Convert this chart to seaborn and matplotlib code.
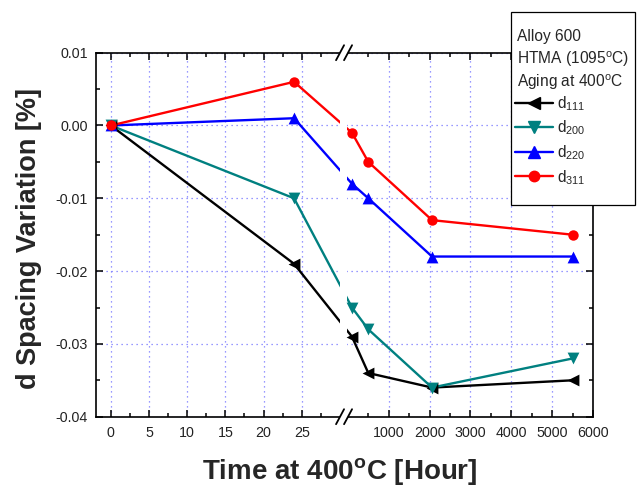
import numpy as np
import pandas as pd
import matplotlib
matplotlib.use("Agg")
import matplotlib.pyplot as plt
import seaborn as sns
from matplotlib.lines import Line2D
from matplotlib.patches import Rectangle

# ---------------- data ----------------
hours = [0, 24, 100, 500, 2060, 5500]
d111 = [0.0, -0.019, -0.029, -0.034, -0.036, -0.035]
d200 = [0.0, -0.010, -0.025, -0.028, -0.036, -0.032]
d220 = [0.0, 0.001, -0.008, -0.010, -0.018, -0.018]
d311 = [0.0, 0.006, -0.001, -0.005, -0.013, -0.015]
series_names = ["d111", "d200", "d220", "d311"]
series_labels = [r"d$_{\mathregular{111}}$", r"d$_{\mathregular{200}}$",
                 r"d$_{\mathregular{220}}$", r"d$_{\mathregular{311}}$"]
x_ticks_left = [0, 5, 10, 15, 20, 25]
x_minor_left = [2.5, 7.5, 12.5, 17.5, 22.5, 27.5]
x_ticks_right = [1000, 2000, 3000, 4000, 5000, 6000]
x_minor_right = [500, 1500, 2500, 3500, 4500, 5500]
y_ticks = [-0.04, -0.03, -0.02, -0.01, 0.00, 0.01]
y_tick_labels = ["-0.04", "-0.03", "-0.02", "-0.01", "0.00", "0.01"]
legend_title_lines = ["Alloy 600", r"HTMA (1095$^\mathregular{o}$C)",
                      r"Aging at 400$^\mathregular{o}$C"]
x_label = r"Time at 400$^\mathregular{o}$C [Hour]"
y_label = "d Spacing Variation [%]"

# ---------------- styles ----------------
colors = {"d111": "#000000", "d200": "#008080", "d220": "#0000ff", "d311": "#ff0000"}
markers = {"d111": "<", "d200": "v", "d220": "^", "d311": "o"}
msizes = {"d111": 8.5, "d200": 8.5, "d220": 8.5, "d311": 7.5}

sns.set_style("ticks")
plt.rcParams["font.family"] = ["Liberation Sans", "DejaVu Sans"]
plt.rcParams["mathtext.fontset"] = "custom"
plt.rcParams["mathtext.rm"] = "Liberation Sans"
plt.rcParams["mathtext.it"] = "Liberation Sans:italic"
plt.rcParams["mathtext.bf"] = "Liberation Sans:bold"
plt.rcParams["axes.unicode_minus"] = False

df = pd.DataFrame({
    "hours": hours * 4,
    "value": d111 + d200 + d220 + d311,
    "series": [n for n in series_names for _ in hours],
})

# broken time axis: 0..~30 h linear, then 0..6000 h compressed
BREAK = 31.0
R0 = 31.05
K = 0.005353


def fwd(h):
    h = np.asarray(h, dtype=float)
    return np.where(h <= BREAK, h, R0 + h * K)


def inv(u):
    u = np.asarray(u, dtype=float)
    return np.where(u <= BREAK, u, (u - R0) / K)


W, H = 640.0, 486.0
fig = plt.figure(figsize=(6.4, 4.86), dpi=100)
ax = fig.add_axes([96 / W, 1 - 416.7 / H, (593 - 96) / W, (416.7 - 52.7) / H])
ax.set_xscale("function", functions=(fwd, inv))

sns.lineplot(data=df, x="hours", y="value", hue="series", palette=colors,
             sort=False, linewidth=1.7, legend=False, ax=ax, zorder=2)
ax.axvspan(30.0, 31.0, color="white", zorder=2.5, lw=0)
for n in series_names:
    sub = df[df["series"] == n]
    sns.scatterplot(data=sub, x="hours", y="value", color=colors[n],
                    marker=markers[n], s=msizes[n] ** 2, linewidth=0,
                    legend=False, ax=ax, zorder=3)

ax.set_xlim(-1.95, 6000)
ax.set_ylim(-0.04, 0.01)
ax.set_xticks(x_ticks_left + x_ticks_right)
ax.set_xticklabels([str(v) for v in x_ticks_left + x_ticks_right])
ax.set_xticks(x_minor_left + x_minor_right, minor=True)
ax.set_yticks(y_ticks)
ax.set_yticklabels(y_tick_labels)
ax.set_yticks([-0.035, -0.025, -0.015, -0.005, 0.005], minor=True)

ax.grid(True, which="major", color="#7878ff", linestyle=(0, (1, 3)), linewidth=0.9)
ax.set_axisbelow(True)

for s in ax.spines.values():
    s.set_linewidth(1.2)
    s.set_color("black")
ax.tick_params(which="both", direction="in", top=True, right=True, width=1.1,
               colors="black", labelcolor="#222222", labelsize=10.3)
ax.tick_params(which="major", length=5)
ax.tick_params(which="minor", length=2.7)
ax.tick_params(axis="x", pad=7)
ax.tick_params(axis="y", pad=6)

ax.set_xlabel(x_label, fontsize=20, fontweight="bold")
ax.set_ylabel(y_label, fontsize=19.5, fontweight="bold")
ax.xaxis.set_label_coords(0.49, -0.108)
ax.yaxis.set_label_coords(-0.108, 0.49)

# break marks on top and bottom spines
fig.canvas.draw()
bx = ax.transAxes.inverted().transform(ax.transData.transform((30.55, 0)))[0]
px = 1.0 / 497.0
py = 1.0 / 364.0
for yb in (0.0, 1.0):
    ax.add_patch(Rectangle((bx - 4 * px, yb - 2.5 * py), 8 * px, 5 * py,
                           transform=ax.transAxes, color="white",
                           clip_on=False, zorder=10, lw=0))
    for dx in (-4, 4):
        ax.plot([bx + (dx - 4) * px, bx + (dx + 4) * px],
                [yb - 7.5 * py, yb + 7.5 * py], transform=ax.transAxes,
                color="black", lw=1.3, clip_on=False, zorder=11)

# legend box (frame + header lines + entries)
fig.add_artist(Rectangle((511 / W, 1 - 205 / H), (635 - 511) / W, (205 - 12) / H,
                         transform=fig.transFigure, facecolor="white",
                         edgecolor="black", lw=0.9, zorder=4))
for txt, yc in zip(legend_title_lines, (36, 59.5, 82)):
    fig.text(517 / W, 1 - yc / H, txt, fontsize=11.2, ha="left", va="center",
             zorder=6)

handles = [Line2D([0], [0], color=colors[n], marker=markers[n], markersize=msizes[n],
                  linewidth=1.7) for n in series_names]
leg = fig.legend(handles, series_labels, loc="upper left",
                 bbox_to_anchor=(515 / W, 1 - 94 / H), frameon=False,
                 fontsize=11.2, handlelength=2.45, handletextpad=0.25,
                 labelspacing=0.38, borderpad=0, borderaxespad=0)
leg.set_zorder(6)

fig.savefig("out.png", dpi=100)
